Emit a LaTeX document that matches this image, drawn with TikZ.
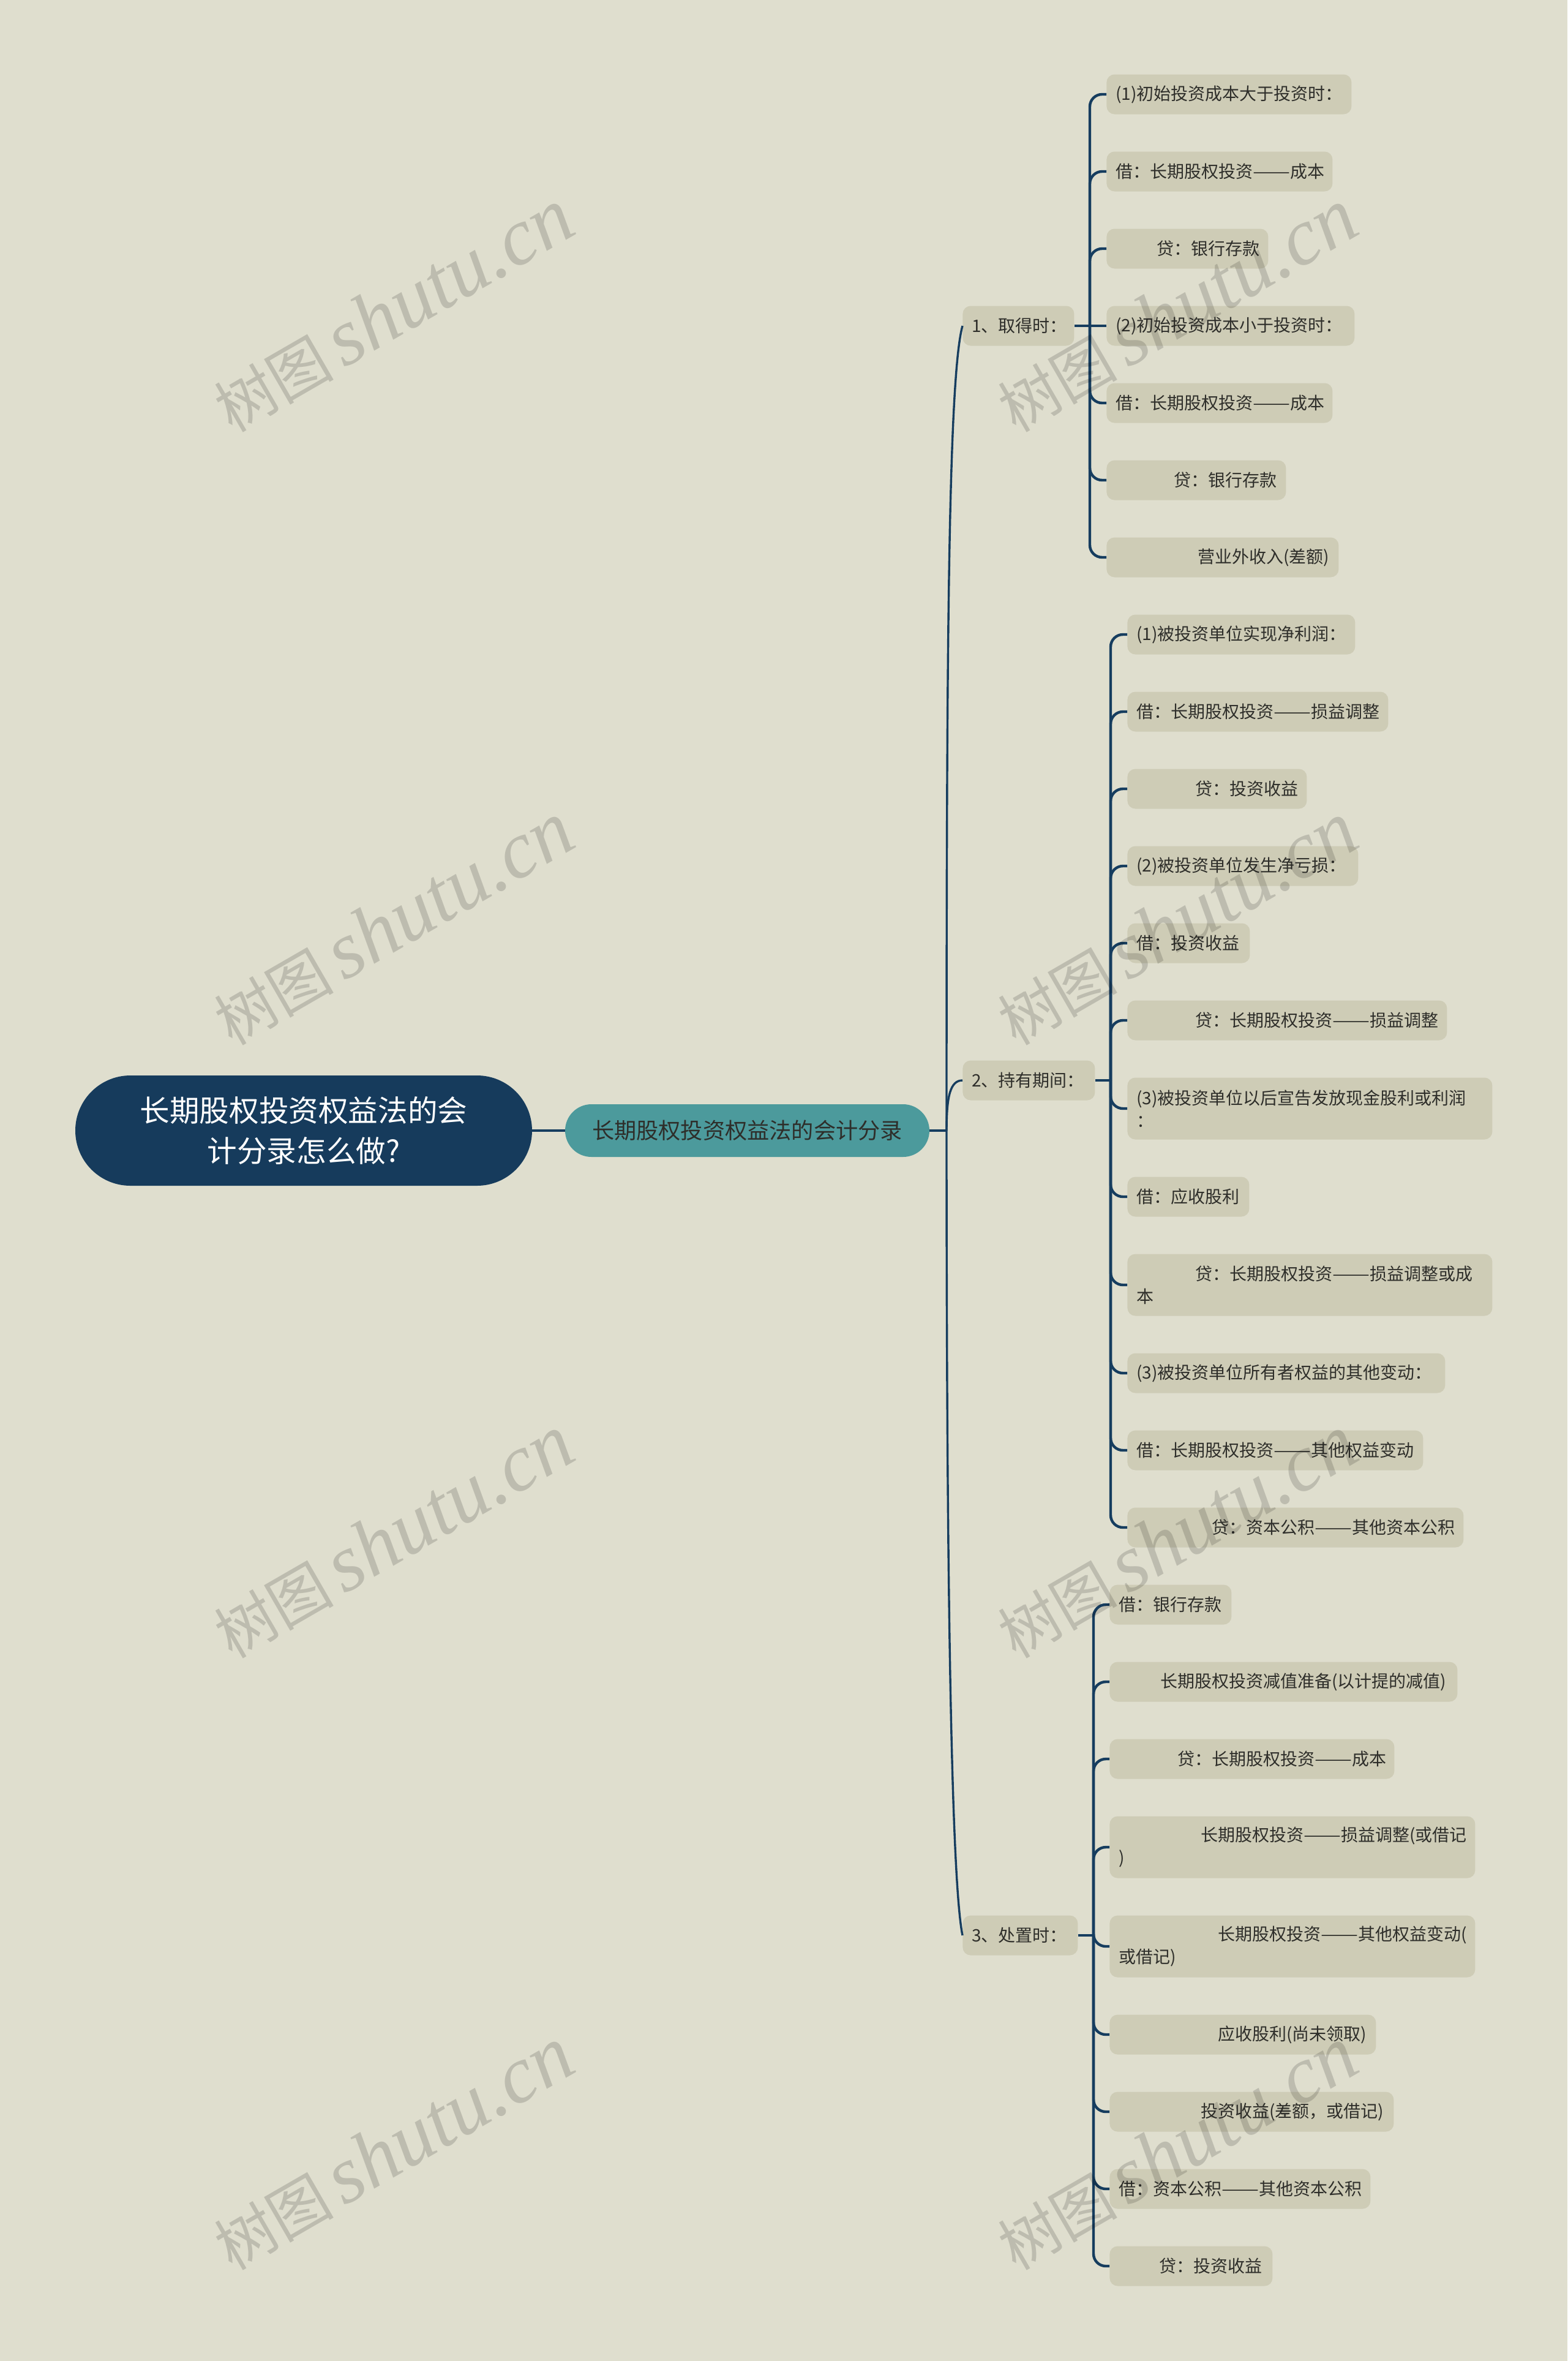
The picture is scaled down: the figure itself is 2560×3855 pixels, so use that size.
\documentclass[tikz,border=0pt]{standalone}
\usepackage{fontspec}
\setmainfont{Noto Sans CJK SC}
\newfontfamily\wmcjk{Noto Sans CJK SC}
\newfontfamily\wmlat{Liberation Serif}
\definecolor{bgc}{HTML}{DFDECE}
\definecolor{leafc}{HTML}{CECCB6}
\definecolor{linec}{HTML}{163D5F}
\definecolor{rootc}{HTML}{163B5C}
\definecolor{subc}{HTML}{4C9A9C}
\definecolor{txtc}{HTML}{2E2E2A}
\tikzset{
  x=0.5pt,y=-0.5pt,
  leafbox/.style={fill=leafc,rounded corners=6.5pt,anchor=west,align=left,inner xsep=7.5pt,inner ysep=0pt,
    minimum height=32.5pt,text=txtc,font=\fontsize{14}{18.5}\selectfont},
  tallbox/.style={leafbox,minimum height=50.5pt},
  bw/.code={\pgfmathsetmacro\tmpw{#1*0.5-15}\tikzset{text width=\tmpw pt}},
  rootbox/.style={fill=rootc,rounded corners=45pt,minimum width=373pt,minimum height=90pt,inner sep=0pt,align=center,
    text=white,font=\fontsize{24.3}{33}\selectfont},
  subbox/.style={fill=subc,rounded corners=21.5pt,minimum width=297.5pt,minimum height=43pt,inner sep=0pt,align=center,
    text=txtc,font=\fontsize{18.1}{22}\selectfont},
  trunk/.style={draw=linec,line width=1.7pt},
  branch/.style={draw=linec,line width=2.2pt},
  elbow/.style={branch,rounded corners=10pt},
  wmark/.style={text=black,text opacity=0.15,rotate=30,inner sep=0pt},
}
\newcommand\ind[1]{\hspace*{#1pt}}
\newcommand\dd{\scalebox{1.3}[1]{——}}
\begin{document}
\begin{tikzpicture}
\fill[bgc] (0,0) rectangle (2560,3855);
\useasboundingbox (0,0) rectangle (2560,3855);

\node[rootbox] (root) at (496,1846) {长期股权投资权益法的会\\计分录怎么做?};
\node[subbox] (sub) at (1220.5,1846) {长期股权投资权益法的会计分录};

\node[leafbox,bw=182] (m1) at (1572,532) {1、取得时：};
\node[leafbox,bw=216] (m2) at (1572,1764) {2、持有期间：};
\node[leafbox,bw=188] (m3) at (1572,3160) {3、处置时：};

% group 1
\node[leafbox,bw=400] (a1) at (1807,154) {(1)初始投资成本大于投资时：};
\node[leafbox,bw=369] (a2) at (1807,280) {借：长期股权投资\dd 成本};
\node[leafbox,bw=264] (a3) at (1807,406) {\ind{33.5}贷：银行存款};
\node[leafbox,bw=405] (a4) at (1807,532) {(2)初始投资成本小于投资时：};
\node[leafbox,bw=369] (a5) at (1807,658) {借：长期股权投资\dd 成本};
\node[leafbox,bw=293] (a6) at (1807,784) {\ind{47.5}贷：银行存款};
\node[leafbox,bw=379] (a7) at (1807,910) {\ind{67}营业外收入(差额)};

% group 2
\node[leafbox,bw=372] (b1) at (1841,1036) {(1)被投资单位实现净利润：};
\node[leafbox,bw=426] (b2) at (1841,1162) {借：长期股权投资\dd 损益调整};
\node[leafbox,bw=293] (b3) at (1841,1288) {\ind{48}贷：投资收益};
\node[leafbox,bw=377] (b4) at (1841,1414) {(2)被投资单位发生净亏损：};
\node[leafbox,bw=200] (b5) at (1841,1540) {借：投资收益};
\node[leafbox,bw=522] (b6) at (1841,1666) {\ind{48}贷：长期股权投资\dd 损益调整};
\node[tallbox,bw=596] (b7) at (1841,1810) {(3)被投资单位以后宣告发放现金股利或利润\\：};
\node[leafbox,bw=199] (b8) at (1841,1954) {借：应收股利};
\node[tallbox,bw=596] (b9) at (1841,2098) {\ind{48}贷：长期股权投资\dd 损益调整或成\\本};
\node[leafbox,bw=519] (b10) at (1841,2242) {(3)被投资单位所有者权益的其他变动：};
\node[leafbox,bw=483] (b11) at (1841,2368) {借：长期股权投资\dd 其他权益变动};
\node[leafbox,bw=549] (b12) at (1841,2494) {\ind{61.5}贷：资本公积\dd 其他资本公积};

% group 3
\node[leafbox,bw=199] (c1) at (1812,2620) {借：银行存款};
\node[leafbox,bw=568] (c2) at (1812,2746) {\ind{34}长期股权投资减值准备(以计提的减值)};
\node[leafbox,bw=465] (c3) at (1812,2872) {\ind{48}贷：长期股权投资\dd 成本};
\node[tallbox,bw=597] (c4) at (1812,3016) {\ind{67}长期股权投资\dd 损益调整(或借记\\)};
\node[tallbox,bw=597] (c5) at (1812,3178) {\ind{81}长期股权投资\dd 其他权益变动(\\或借记)};
\node[leafbox,bw=435] (c6) at (1812,3322) {\ind{81}应收股利(尚未领取)};
\node[leafbox,bw=464] (c7) at (1812,3448) {\ind{67}投资收益(差额，或借记)};
\node[leafbox,bw=426] (c8) at (1812,3574) {借：资本公积\dd 其他资本公积};
\node[leafbox,bw=266] (c9) at (1812,3700) {\ind{33}贷：投资收益};

% junctions
\coordinate (hub) at (1546,1846);
\coordinate (j1) at (1780,532);
\coordinate (j2) at (1814,1764);
\coordinate (j3) at (1786,3160);

% connectors
\draw[branch] (root.east) -- (sub.west);
\draw[branch] (sub.east) -- (hub);
\draw[trunk] (hub) .. controls (1546,1100) and (1548,620) .. (m1.west);
\draw[trunk] (hub) .. controls (1546,1790) and (1552,1764) .. (m2.west);
\draw[trunk] (hub) .. controls (1546,2500) and (1552,3060) .. (m3.west);

\draw[branch] (m1.east) -- (a4.west);
\draw[branch] (m2.east) -- (j2);
\draw[branch] (m3.east) -- (j3);

\foreach \n in {a1,a2,a3,a5,a6,a7} \draw[elbow] (j1) |- (\n.west);
\foreach \n in {b1,b2,b3,b4,b5,b6,b7,b8,b9,b10,b11,b12} \draw[elbow] (j2) |- (\n.west);
\foreach \n in {c1,c2,c3,c4,c5,c6,c7,c8,c9} \draw[elbow] (j3) |- (\n.west);

% watermarks
\foreach \i/\px/\py in {1/642/507,2/1922/507,3/642/1508,4/1922/1508,5/642/2509,6/1922/2509,7/642/3508,8/1922/3508}
  \node[wmark] (wm\i) at (\px,\py) {{\wmcjk\fontsize{49}{60}\selectfont 树图}\hspace{8pt}{\wmlat\itshape\fontsize{66}{60}\selectfont shutu.cn}};
\end{tikzpicture}
\end{document}
